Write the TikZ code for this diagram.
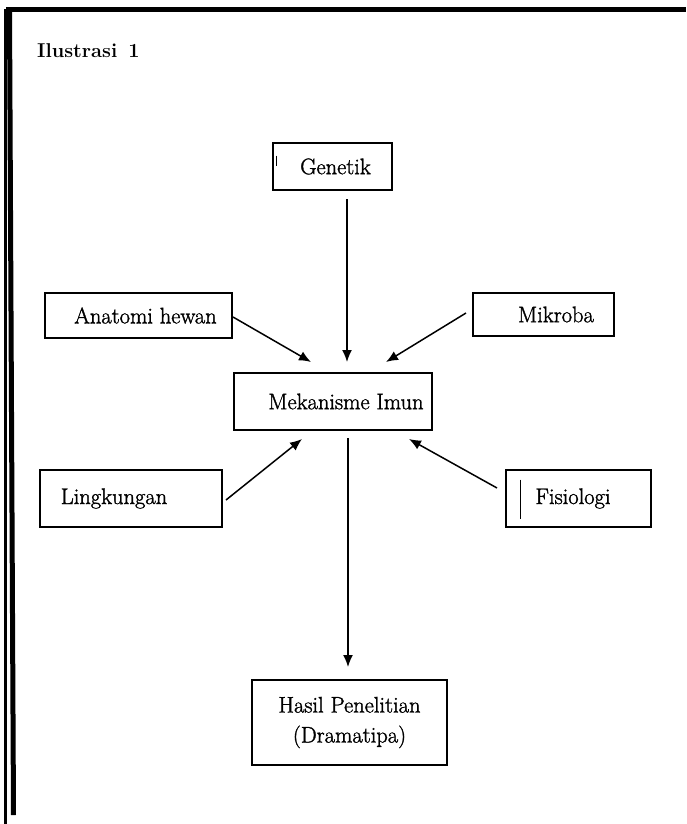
\documentclass[tikz,border=0pt]{standalone}
\usepackage{fontspec}
\setmainfont{Latin Modern Roman}
\newfontfamily\boxfont{Latin Modern Roman}[FakeBold=1.4]
\usetikzlibrary{arrows.meta,calc}
\begin{document}
\begin{tikzpicture}[x=1pt,y=-1pt,
  box/.style={draw,line width=2pt,inner sep=0pt,align=center,
    font=\boxfont\fontsize{22.5}{30}\selectfont},
  arr/.style={line width=1.5pt,-{Latex[length=12pt,width=10pt]}},
  frame/.style={line cap=butt}]
\useasboundingbox (0,0) rectangle (686,824);
% frame
\draw[frame,line width=5pt] (6,9.5) -- (686,9.5);
\draw[frame,line width=3pt] (5.5,9) -- (5.5,824);
\draw[frame,line width=5pt] (9.5,9) -- (13.5,815);
% title
\node[anchor=base west,inner sep=0pt,font=\bfseries\fontsize{20}{23}\selectfont] (title) at (37,58) {Ilustrasi\hspace{11pt}1};
% boxes
\node[box,minimum width=119pt,minimum height=47pt] (genetik) at (332.5,166.5) {\hspace{6pt}Genetik};
\node[box,minimum width=187pt,minimum height=45pt] (anatomi) at (138.5,315.5) {\hspace{14pt}Anatomi hewan};
\node[box,minimum width=141pt,minimum height=43pt] (mikroba) at (543.5,314.5) {\hspace{25pt}Mikroba};
\node[box,minimum width=198pt,minimum height=57pt] (mek) at (333,401.5) {\hspace{26pt}Mekanisme Imun};
\node[box,minimum width=182pt,minimum height=57pt] (lingkungan) at (131,498.5) {Lingkungan\hspace{34pt}};
\node[box,minimum width=145pt,minimum height=57pt] (fisiologi) at (578.5,498.5) {Fisiologi\hspace{11pt}};
\node[box,minimum width=195pt,minimum height=85pt] (hasil) at (349.5,722.5) {Hasil Penelitian\\(Dramatipa)};
% scan marks
\draw[line width=0.8pt] ($(genetik.west)+(4,-11)$) -- ($(genetik.west)+(4,-1)$);
\draw[line width=1pt] ($(fisiologi.west)+(15,-19)$) -- ($(fisiologi.west)+(15,20)$);
% arrows
\draw[arr] ($(genetik.south)+(14.5,8)$) -- ($(mek.north)+(14,-10)$);
\draw[arr] ($(anatomi.east)+(0,1.5)$) -- ($(mek.north west)+(78,-10)$);
\draw[arr] ($(mikroba.west)+(-6,-1.5)$) -- ($(mek.north east)+(-47,-10)$);
\draw[arr] ($(lingkungan.east)+(3,1.5)$) -- ($(mek.south west)+(69,8)$);
\draw[arr] ($(fisiologi.west)+(-8,-10.5)$) -- ($(mek.south east)+(-24,8)$);
\draw[arr] ($(mek.south)+(15,7)$) -- ($(hasil.north)+(-1.5,-12)$);
\end{tikzpicture}
\end{document}
